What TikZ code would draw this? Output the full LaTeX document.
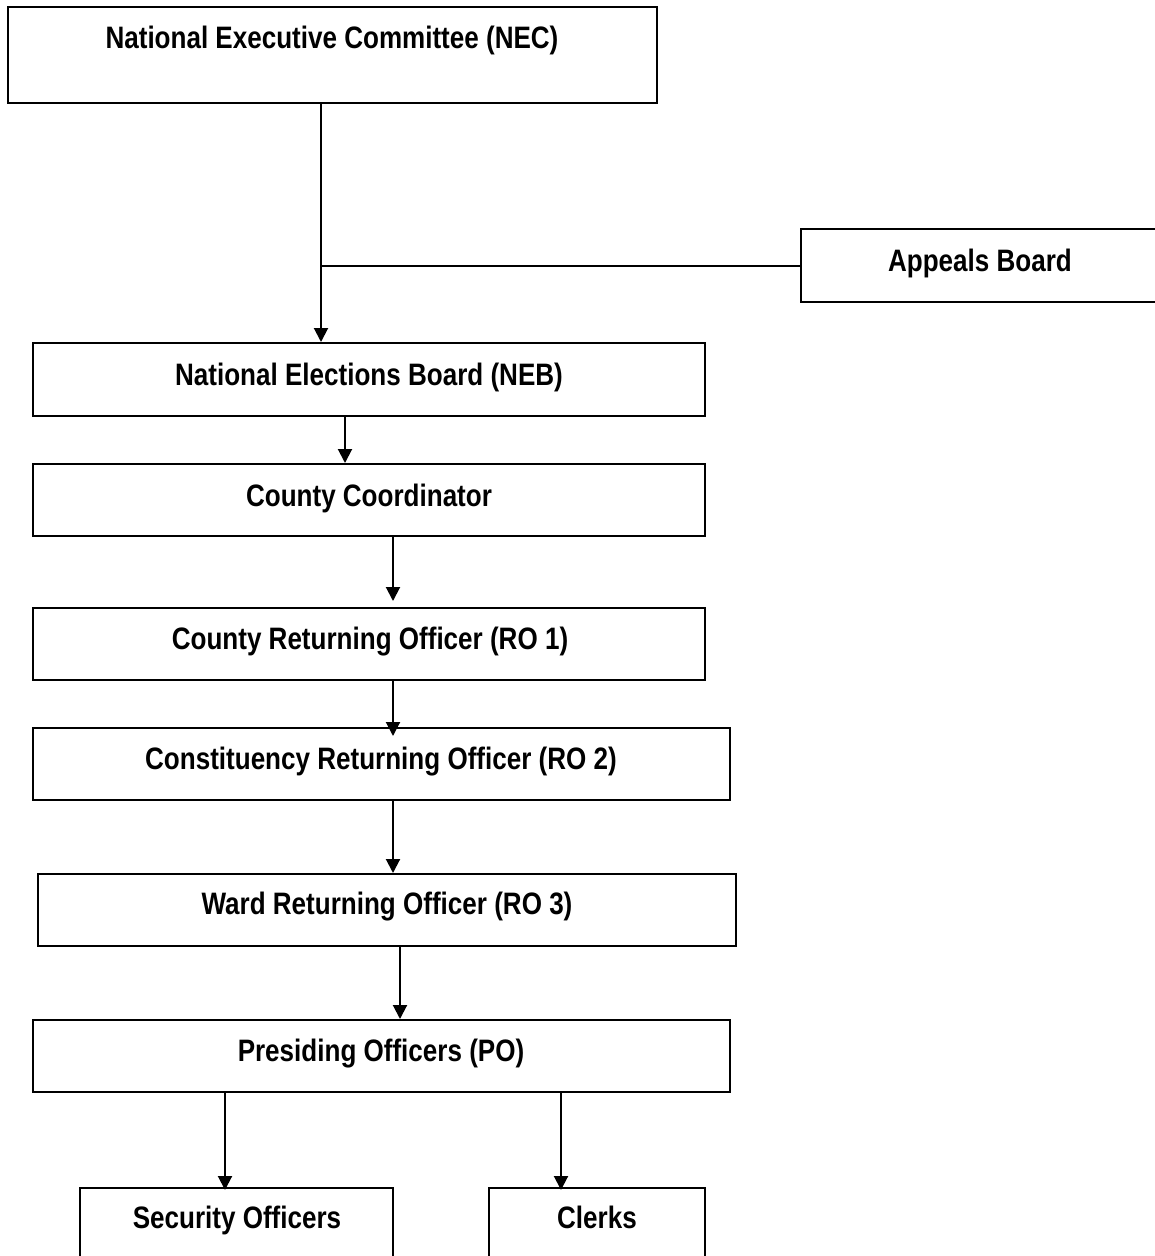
\documentclass[tikz,border=0pt]{standalone}
\usepackage{fontspec}
\setmainfont{Liberation Sans}[FakeStretch=0.84]
\usetikzlibrary{arrows.meta}
\tikzset{
  box/.style={draw=black, line width=2pt, rectangle, inner sep=0pt, fill=white},
  lbl/.style={anchor=base, inner sep=0pt, font=\fontsize{31}{34}\selectfont\bfseries},
  arr/.style={line width=2pt, -{Triangle[length=14pt,width=14pt]}},
  ln/.style={line width=2pt}
}
\newcommand{\mkbox}[5]{\node[box, minimum width={#3-#2}, minimum height={#5-#4}] (#1) at ({(#2+#3)/2},{(#4+#5)/2}) {};}
\begin{document}
\begin{tikzpicture}[x=1pt, y=-1pt]
\useasboundingbox (0,0) rectangle (1155,1256);
\clip (0,0) rectangle (1155,1256);
\fill[white] (0,0) rectangle (1155,1256);
% boxes
\mkbox{nec}{8}{657}{7}{103}
\mkbox{ab}{801}{1162}{229}{302}
\mkbox{neb}{33}{705}{343}{416}
\mkbox{cc}{33}{705}{464}{536}
\mkbox{ro1}{33}{705}{608}{680}
\mkbox{ro2}{33}{730}{728}{800}
\mkbox{ro3}{38}{736}{874}{946}
\mkbox{po}{33}{730}{1020}{1092}
\mkbox{so}{80}{393}{1188}{1272}
\mkbox{cl}{489}{705}{1188}{1272}
% labels
\node[lbl] (necT) at (332,48) {National Executive Committee (NEC)};
\node[lbl] (abT) at (980,271) {Appeals Board};
\node[lbl] (nebT) at (369,385) {National Elections Board (NEB)};
\node[lbl] (ccT) at (369,506) {County Coordinator};
\node[lbl] (ro1T) at (370,649) {County Returning Officer (RO 1)};
\node[lbl] (ro2T) at (381,769) {Constituency Returning Officer (RO 2)};
\node[lbl] (ro3T) at (387,914) {Ward Returning Officer (RO 3)};
\node[lbl] (poT) at (381,1061) {Presiding Officers (PO)};
\node[lbl] (soT) at (237,1228) {Security Officers};
\node[lbl] (clT) at (597,1228) {Clerks};
% connectors
\coordinate (j) at ([xshift=-11.5pt]nec.south |- ab.west);
\draw[arr] ([xshift=-11.5pt]nec.south) -- ([xshift=-11.5pt]nec.south |- neb.north);
\draw[ln] (j) -- (ab.west);
\draw[arr] ([xshift=-24pt]neb.south) -- ([xshift=-24pt]neb.south |- cc.north);
\draw[arr] ([xshift=24pt]cc.south) -- ([xshift=24pt,yshift=6pt]cc.south |- ro1.north);
\draw[arr] ([xshift=24pt]ro1.south) -- ([xshift=24pt,yshift=-9pt]ro1.south |- ro2.north);
\draw[arr] ([xshift=11.5pt]ro2.south) -- ([xshift=11.5pt]ro2.south |- ro3.north);
\draw[arr] ([xshift=13pt]ro3.south) -- ([xshift=13pt]ro3.south |- po.north);
\draw[arr] ([xshift=-156.5pt]po.south) -- ([xshift=-156.5pt,yshift=-3pt]po.south |- so.north);
\draw[arr] ([xshift=179.5pt]po.south) -- ([xshift=179.5pt,yshift=-3pt]po.south |- cl.north);
\end{tikzpicture}
\end{document}
